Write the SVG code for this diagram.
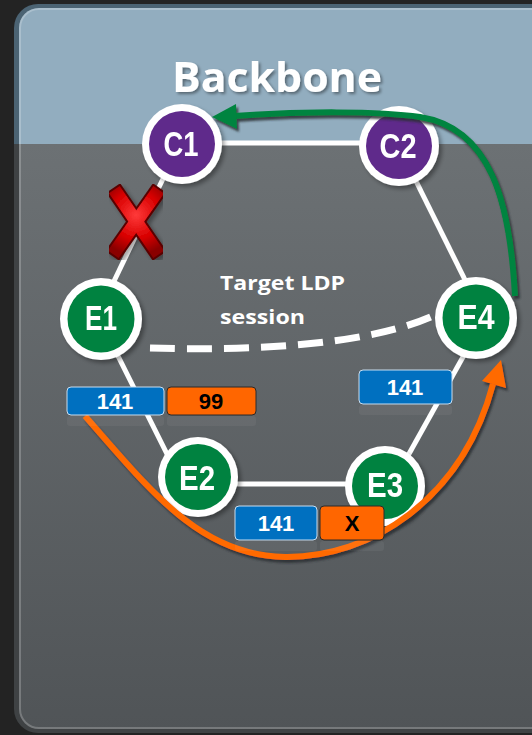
<svg xmlns="http://www.w3.org/2000/svg" width="532" height="735" viewBox="0 0 532 735">
  <style>
    .link { stroke: #ffffff; stroke-width: 5; fill: none; }
    .ring { fill: #ffffff; }
    .core { fill: #5f2a8b; }
    .edge { fill: #00823f; }
    .nlabel { font-family: "Liberation Sans", Arial, sans-serif; font-size: 35px; font-weight: bold; fill: #ffffff; text-anchor: middle; }
    .tag { font-family: "Liberation Sans", Arial, sans-serif; font-size: 22px; font-weight: bold; text-anchor: middle; }
    .blue { fill: #0070c0; stroke: #c9ddef; stroke-width: 1; }
    .orange { fill: #ff6600; stroke: #2a2a2a; stroke-width: 1; }
    .refl { fill: #ffffff; opacity: 0.05; }
    .title { font-family: "Open Sans", "Noto Sans", sans-serif; font-weight: bold; fill: #ffffff; }
  </style>
  <defs>
    <linearGradient id="floor" x1="0" y1="144" x2="0" y2="733" gradientUnits="userSpaceOnUse">
      <stop offset="0" stop-color="#6c7174"/>
      <stop offset="1" stop-color="#505457"/>
    </linearGradient>
    <radialGradient id="xred" cx="136" cy="215" r="40" gradientUnits="userSpaceOnUse">
      <stop offset="0" stop-color="#ff3a3a"/>
      <stop offset="0.6" stop-color="#d80000"/>
      <stop offset="1" stop-color="#8a0000"/>
    </radialGradient>
    <clipPath id="outerClip"><rect x="14" y="4" width="570" height="729" rx="24"/></clipPath>
    <clipPath id="innerClip"><rect x="19" y="8" width="570" height="721" rx="20"/></clipPath>
    <filter id="shadow" x="-20%" y="-20%" width="140%" height="140%">
      <feDropShadow dx="3" dy="3" stdDeviation="2" flood-color="#000" flood-opacity="0.35"/>
    </filter>
    <filter id="lineShadow" x="-10%" y="-10%" width="120%" height="120%">
      <feDropShadow dx="2" dy="3" stdDeviation="1" flood-color="#2a2e30" flood-opacity="0.85"/>
    </filter>
    <filter id="textShadow" x="-10%" y="-20%" width="120%" height="140%">
      <feDropShadow dx="2" dy="2" stdDeviation="1.5" flood-color="#000" flood-opacity="0.4"/>
    </filter>
  </defs>

  <!-- backdrop -->
  <rect x="0" y="0" width="532" height="735" fill="#232323"/>

  <!-- panel: blue header band over a grey body -->
  <g clip-path="url(#outerClip)">
    <rect x="0" y="0" width="532" height="144" fill="#4b6373"/>
    <rect x="0" y="144" width="532" height="600" fill="#3f4244"/>
  </g>
  <g clip-path="url(#innerClip)">
    <rect x="0" y="0" width="532" height="144" fill="#92adbf"/>
    <rect x="0" y="144" width="532" height="600" fill="url(#floor)"/>
  </g>
  <rect x="20" y="9" width="570" height="719" rx="19" fill="none" stroke="#ffffff" stroke-opacity="0.22" stroke-width="2"/>

  <text class="title" x="172" y="92" font-size="42" textLength="210" lengthAdjust="spacingAndGlyphs" filter="url(#textShadow)">Backbone</text>

  <!-- physical links -->
  <g id="links">
    <line class="link" x1="182" y1="143" x2="399" y2="143"/>
    <line class="link" x1="172" y1="160" x2="105" y2="300"/>
    <line class="link" x1="408" y1="165" x2="475" y2="300"/>
    <line class="link" x1="110" y1="340" x2="175" y2="470"/>
    <line class="link" x1="198" y1="484" x2="385" y2="484"/>
    <line class="link" x1="400" y1="470" x2="468" y2="348"/>
  </g>

  <!-- targeted LDP session -->
  <g id="ldp-session">
    <path d="M150,348 C250,351 370,346 437,314" fill="none" stroke="#ffffff" stroke-width="7" stroke-dasharray="25,12"/>
    <text class="title" x="220" y="290" font-size="20" textLength="125" lengthAdjust="spacingAndGlyphs">Target LDP</text>
    <text class="title" x="220" y="324" font-size="20" textLength="85" lengthAdjust="spacingAndGlyphs">session</text>
  </g>

  <!-- routers -->
  <g id="C1" filter="url(#shadow)">
    <circle class="ring" cx="182" cy="144" r="40"/>
    <circle class="core" cx="182" cy="144" r="33"/>
    <text class="nlabel" x="181" y="156" textLength="35" lengthAdjust="spacingAndGlyphs">C1</text>
  </g>
  <g id="C2" filter="url(#shadow)">
    <circle class="ring" cx="399" cy="146" r="40"/>
    <circle class="core" cx="399" cy="146" r="33"/>
    <text class="nlabel" x="398" y="158" textLength="37" lengthAdjust="spacingAndGlyphs">C2</text>
  </g>
  <g id="E1" filter="url(#shadow)">
    <circle class="ring" cx="101" cy="319" r="41"/>
    <circle class="edge" cx="101" cy="319" r="33.5"/>
    <text class="nlabel" x="101" y="330" textLength="32" lengthAdjust="spacingAndGlyphs">E1</text>
  </g>
  <g id="E2" filter="url(#shadow)">
    <circle class="ring" cx="198" cy="477" r="40"/>
    <circle class="edge" cx="198" cy="477" r="33"/>
    <text class="nlabel" x="197" y="490" textLength="36" lengthAdjust="spacingAndGlyphs">E2</text>
  </g>
  <g id="E3" filter="url(#shadow)">
    <circle class="ring" cx="385" cy="486" r="40"/>
    <circle class="edge" cx="385" cy="486" r="33"/>
    <text class="nlabel" x="385" y="497" textLength="36" lengthAdjust="spacingAndGlyphs">E3</text>
  </g>
  <g id="E4" filter="url(#shadow)">
    <circle class="ring" cx="476" cy="318" r="41"/>
    <circle class="edge" cx="476" cy="318" r="33.5"/>
    <text class="nlabel" x="476" y="329" textLength="37" lengthAdjust="spacingAndGlyphs">E4</text>
  </g>

  <!-- LSP paths -->
  <g id="paths">
    <g filter="url(#lineShadow)">
      <path d="M85,416 C150,490 200,556 285,557 C370,558 462,500 493,384" fill="none" stroke="#ff6a00" stroke-width="6"/>
      <polygon points="501,360 506,388 482,381" fill="#ff6a00"/>
    </g>
    <g filter="url(#lineShadow)">
      <path d="M515,296 C510,200 490,128 420,117 C380,111 300,111 234,116" fill="none" stroke="#00843f" stroke-width="6"/>
      <polygon points="212,117 236,104 237,129" fill="#00843f"/>
    </g>
  </g>

  <!-- label stacks -->
  <g id="labels">
    <rect class="refl" x="67" y="416" width="97" height="10" rx="3"/>
    <rect class="refl" x="167" y="416" width="89" height="10" rx="3"/>
    <rect class="refl" x="359" y="405" width="93" height="10" rx="3"/>
    <rect class="refl" x="235" y="541" width="82" height="10" rx="3"/>
    <rect class="refl" x="320" y="541" width="64" height="10" rx="3"/>

    <rect class="blue" x="67" y="387" width="97" height="28" rx="4"/>
    <text class="tag" x="115" y="409" fill="#ffffff">141</text>
    <rect class="orange" x="167" y="387" width="89" height="28" rx="4"/>
    <text class="tag" x="211" y="409" fill="#000000">99</text>

    <rect class="blue" x="359" y="370" width="93" height="34" rx="4"/>
    <text class="tag" x="405" y="395" fill="#ffffff">141</text>

    <rect class="blue" x="235" y="506" width="82" height="34" rx="4"/>
    <text class="tag" x="276" y="531" fill="#ffffff">141</text>
    <rect class="orange" x="320" y="506" width="64" height="34" rx="4"/>
    <text class="tag" x="352" y="531" fill="#000000">X</text>
  </g>

  <!-- failed link marker -->
  <g id="failure" filter="url(#shadow)">
    <g stroke="#5a0000" stroke-width="17" stroke-linecap="square">
      <line x1="118" y1="195" x2="155" y2="249"/>
      <line x1="155" y1="195" x2="117" y2="249"/>
    </g>
    <g stroke="url(#xred)" stroke-width="13" stroke-linecap="square">
      <line x1="118" y1="195" x2="155" y2="249"/>
      <line x1="155" y1="195" x2="117" y2="249"/>
    </g>
  </g>
</svg>
